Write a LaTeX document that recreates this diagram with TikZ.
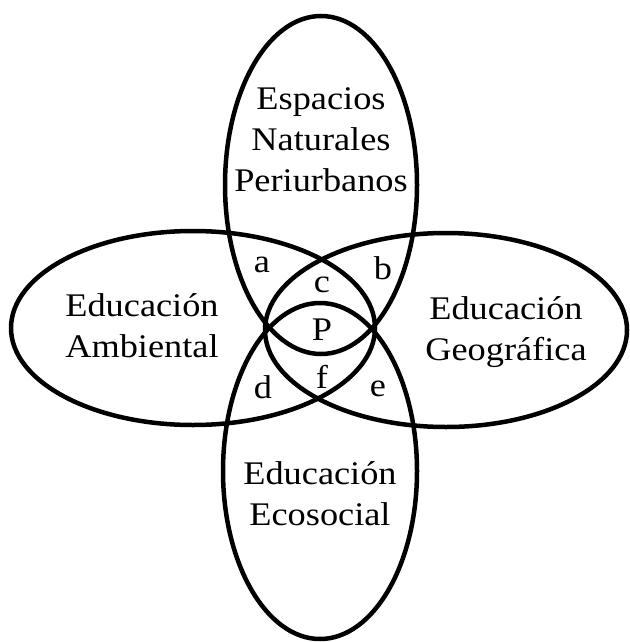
\documentclass[tikz,border=0pt]{standalone}
\usepackage{fontspec}
\setmainfont{Liberation Serif}[FakeStretch=1.1]
\begin{document}
\begin{tikzpicture}[x=1pt,y=-1pt,
  ring/.style={line width=4.5pt},
  lbl/.style={font=\fontsize{33}{41}\selectfont, align=center, inner sep=0pt},
  reg/.style={font=\fontsize{33}{41}\selectfont, inner sep=0pt}]
\useasboundingbox (0,0) rectangle (629,642);
% ellipses
\draw[ring] (193,328) ellipse [x radius=182, y radius=97];
\draw[ring] (446,330) ellipse [x radius=181, y radius=97];
\draw[ring] (321,185) ellipse [x radius=96, y radius=169];
\draw[ring] (320,471) ellipse [x radius=97, y radius=168];
% set labels
\node[lbl] (enp) at (321,140) {Espacios\\Naturales\\Periurbanos};
\node[lbl] (ea) at (142,326) {Educación\\Ambiental};
\node[lbl] (eg) at (506,332) {Educación\\Geográfica};
\node[lbl] (ee) at (320,494) {Educación\\Ecosocial};
% region labels
\node[reg] (ra) at (262,265) {a};
\node[reg] (rb) at (383,268) {b};
\node[reg] (rc) at (322,285) {c};
\node[reg] (rp) at (322,330) {P};
\node[reg] (rd) at (263,387) {d};
\node[reg] (rf) at (322,377) {f};
\node[reg] (re) at (378,389) {e};
\end{tikzpicture}
\end{document}
